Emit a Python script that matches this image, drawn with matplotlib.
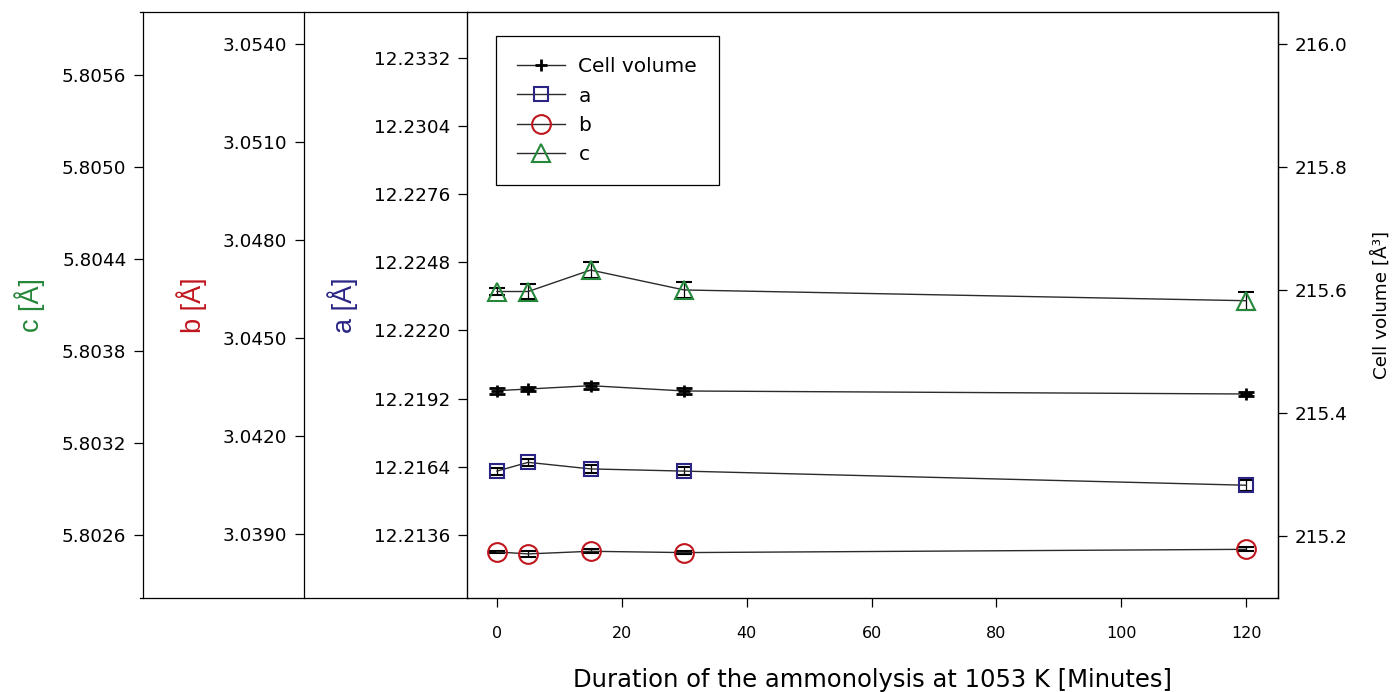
import matplotlib
matplotlib.use("Agg")
import matplotlib.pyplot as plt
from matplotlib.lines import Line2D
from matplotlib.ticker import FixedLocator, FormatStrFormatter

plt.rcParams['font.family'] = ['DejaVu Sans']

# Ammonolysis time and refined lattice parameters
minutes = [0, 5, 15, 30, 120]
cell_volume = [215.4358, 215.4385, 215.4439, 215.4353, 215.4304]
cell_volume_err = [0.005, 0.004, 0.005, 0.005, 0.004]
a_param = [12.21622, 12.21658, 12.21631, 12.21622, 12.21564]
a_err = [0.00014, 0.00014, 0.00015, 0.00016, 0.00023]
b_param = [3.03845, 3.03839, 3.03847, 3.03843, 3.03853]
b_err = [0.00003, 0.00008, 0.00006, 0.00005, 0.00006]
c_param = [5.80419, 5.80419, 5.80433, 5.80420, 5.80413]
c_err = [0.00002, 0.00005, 0.00005, 0.00005, 0.00006]

x_ticks = [0, 20, 40, 60, 80, 100, 120]
volume_ticks = [215.2, 215.4, 215.6, 215.8, 216.0]
a_ticks = [12.2136, 12.2164, 12.2192, 12.2220, 12.2248, 12.2276, 12.2304, 12.2332]
b_ticks = [3.0390, 3.0420, 3.0450, 3.0480, 3.0510, 3.0540]
c_ticks = [5.8026, 5.8032, 5.8038, 5.8044, 5.8050, 5.8056]

GREEN = '#25873a'
RED = '#c0161e'
NAVY = '#2a2584'
LINE = '#2b2b2b'

W, H = 1392, 692
fig = plt.figure(figsize=(W / 100, H / 100), dpi=100)
left, right, top, bottom = 467, 1278, 12, 598
ax = fig.add_axes([left / W, 1 - bottom / H, (right - left) / W, (bottom - top) / H])

tick_kw = dict(direction='out', length=6.5, width=0.9, labelsize=13.2, pad=5.5)

# host axis: a on the left
ax.set_xlim(-4.8, 125.1)
ax.set_ylim(12.21101, 12.23507)
ax.xaxis.set_major_locator(FixedLocator(x_ticks))
ax.yaxis.set_major_locator(FixedLocator(a_ticks))
ax.yaxis.set_major_formatter(FormatStrFormatter('%.4f'))
ax.tick_params(axis='y', **tick_kw)
ax.tick_params(axis='x', direction='out', length=6.5, width=0.9, labelsize=11.5, pad=14)
for s in ax.spines.values():
    s.set_linewidth(0.9)

# cell volume on the right
axv = ax.twinx()
axv.set_ylim(215.0987, 216.0515)
axv.yaxis.set_major_locator(FixedLocator(volume_ticks))
axv.yaxis.set_major_formatter(FormatStrFormatter('%.1f'))
axv.tick_params(axis='y', **tick_kw)
axv.spines['right'].set_linewidth(0.9)


def offset_left(axis, offset, lo, hi, ticks):
    axis.set_ylim(lo, hi)
    axis.yaxis.set_ticks_position('left')
    axis.yaxis.set_label_position('left')
    axis.spines['left'].set_visible(True)
    axis.spines['left'].set_position(('axes', offset))
    axis.spines['left'].set_linewidth(0.9)
    for side in ('right', 'top', 'bottom'):
        axis.spines[side].set_visible(False)
    axis.yaxis.set_major_locator(FixedLocator(ticks))
    axis.yaxis.set_major_formatter(FormatStrFormatter('%.4f'))
    axis.tick_params(axis='y', **tick_kw)


axb = ax.twinx()
offset_left(axb, (304 - left) / (right - left), 3.03704, 3.05498, b_ticks)
axc = ax.twinx()
offset_left(axc, (143 - left) / (right - left), 5.802191, 5.806013, c_ticks)

# frame lines joining the offset axes
for yy in (top, bottom):
    fig.add_artist(Line2D([140 / W, left / W], [1 - yy / H, 1 - yy / H],
                          color='black', lw=0.9, transform=fig.transFigure))

err_kw = dict(ecolor='black', elinewidth=0.9, capsize=6, capthick=0.9, color=LINE, lw=1.0)

ec = axc.errorbar(minutes, c_param, yerr=c_err, marker='^', ms=13, mfc='none',
                  mec=GREEN, mew=1.5, **err_kw)
eb = axb.errorbar(minutes, b_param, yerr=b_err, marker='o', ms=13.5, mfc='none',
                  mec=RED, mew=1.5, **err_kw)
ea = ax.errorbar(minutes, a_param, yerr=a_err, marker='s', ms=10.5, mfc='none',
                 mec=NAVY, mew=1.5, **err_kw)
ev = axv.errorbar(minutes, cell_volume, yerr=cell_volume_err, marker='+', ms=8,
                  mec='black', mew=2.0, **err_kw)

# axis titles
ytxt = 1 - 305 / H
fig.text(30 / W, ytxt, 'c [Å]', rotation=90, ha='center', va='center',
         color=GREEN, fontsize=19.5, family='Liberation Sans')
fig.text(192 / W, ytxt, 'b [Å]', rotation=90, ha='center', va='center',
         color=RED, fontsize=19.5, family='Liberation Sans')
fig.text(343 / W, ytxt, 'a [Å]', rotation=90, ha='center', va='center',
         color=NAVY, fontsize=19.5, family='Liberation Sans')
fig.text(1381 / W, ytxt, 'Cell volume [Å³]', rotation=90, ha='center', va='center',
         color='black', fontsize=13.2)
fig.text((left + right) / 2 / W, 1 - 680 / H, 'Duration of the ammonolysis at 1053 K [Minutes]',
         ha='center', va='center', fontsize=17.5)

handles = [ev[0], ea[0], eb[0], ec[0]]
labels = ['Cell volume', 'a', 'b', 'c']
leg = axv.legend(handles, labels, loc='upper left',
                 bbox_to_anchor=((495.7 - left) / (right - left), 1 - (35.7 - top) / (bottom - top)),
                 borderaxespad=0, fontsize=14.5, handlelength=2.35, handletextpad=0.68,
                 borderpad=1.08, labelspacing=0.5, fancybox=False, framealpha=1,
                 edgecolor='black', numpoints=1)
leg.get_frame().set_linewidth(0.9)

fig.savefig('out.png', dpi=100)
